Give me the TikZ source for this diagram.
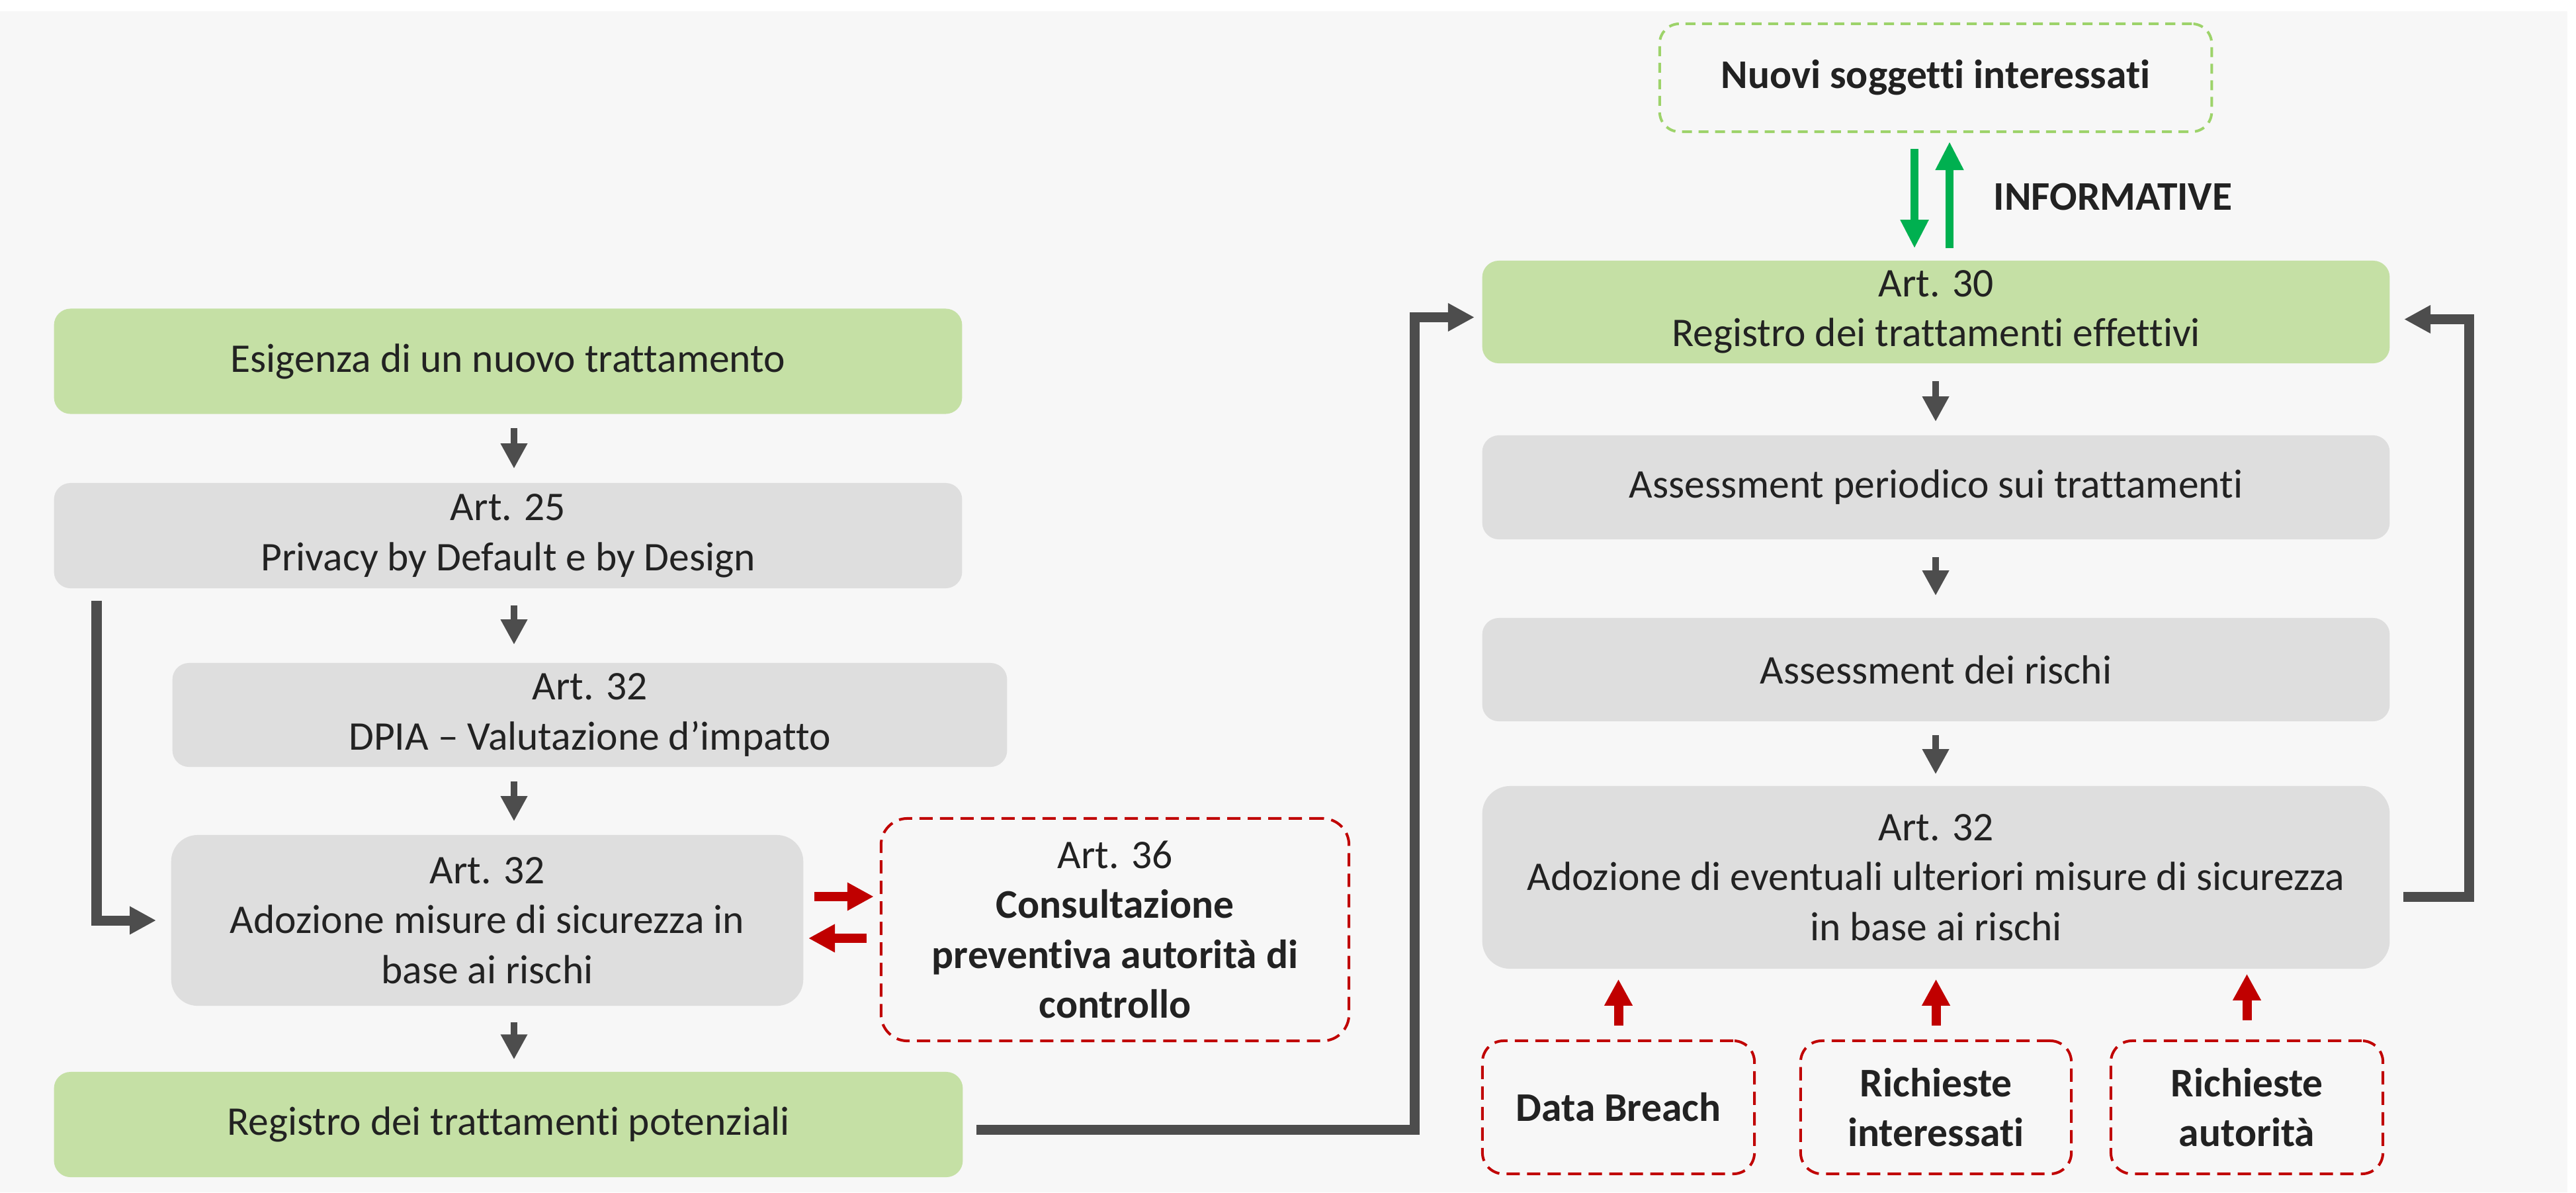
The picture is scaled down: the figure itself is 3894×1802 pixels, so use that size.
\documentclass[tikz,border=0pt]{standalone}
\usepackage{fontspec}
\setmainfont{Carlito}[Ligatures=NoCommon]
\usetikzlibrary{arrows.meta,calc}
\definecolor{bg}{HTML}{F7F7F7}
\definecolor{boxgreen}{HTML}{C5E0A5}
\definecolor{boxgray}{HTML}{DEDEDE}
\definecolor{dgray}{HTML}{4D4D4D}
\definecolor{dred}{HTML}{C00000}
\definecolor{lgreen}{HTML}{9DD36A}
\definecolor{agreen}{HTML}{00B050}
\definecolor{txt}{HTML}{222222}
\begin{document}
\begin{tikzpicture}[x=0.01cm,y=-0.01cm,
  base/.style={rounded corners=0.25cm, align=center, text=txt, inner sep=0pt,
    font=\fontsize{17.5}{21.5}\selectfont},
  greenbox/.style={base, fill=boxgreen},
  graybox/.style={base, fill=boxgray},
  reddash/.style={base, draw=dred, line width=0.04cm, dash pattern=on 0.2cm off 0.11cm, rounded corners=0.32cm},
  greendash/.style={base, draw=lgreen, line width=0.04cm, dash pattern=on 0.15cm off 0.1cm, rounded corners=0.3cm},
  sz/.style 2 args={minimum width=#1, minimum height=#2},
  garrow/.style={draw=dgray, line width=0.1cm, -{Triangle[width=0.38cm,length=0.38cm]}},
  tarrow/.style={draw=dgray, line width=0.15cm, -{Triangle[width=0.4cm,length=0.4cm]}},
  rarrow/.style={draw=dred, line width=0.14cm, -{Triangle[width=0.4cm,length=0.4cm]}},
  grarrow/.style={draw=agreen, line width=0.12cm, -{Triangle[width=0.4cm,length=0.43cm]}},
]
\useasboundingbox (0,0) rectangle (3894,1802);
\fill[bg] (0,17) rectangle (3881,1802);

% left column
\node[greenbox, sz={13.72cm}{1.59cm}] (esig) at (768,546) {Esigenza di un nuovo trattamento};
\node[graybox, sz={13.72cm}{1.59cm}] (art25) at (768,809.5) {Art. 25\\Privacy by Default e by Design};
\node[graybox, sz={12.61cm}{1.57cm}] (dpia) at (891.5,1080.5) {Art. 32\\DPIA – Valutazione d’impatto};
\node[graybox, sz={9.55cm}{2.58cm}, rounded corners=0.4cm] (adoz) at (736.5,1391) {Art. 32\\Adozione misure di sicurezza in\\base ai rischi};
\node[greenbox, sz={13.73cm}{1.59cm}] (regpot) at (768.5,1699.5) {Registro dei trattamenti potenziali};
\node[reddash, sz={7.07cm}{3.36cm}, rounded corners=0.4cm] (art36) at (1685.5,1405) {Art. 36\\\textbf{Consultazione}\\\textbf{preventiva autorità di}\\\textbf{controllo}};

% right column
\node[greendash, sz={8.34cm}{1.63cm}] (nuovi) at (2926,117.5) {\textbf{Nuovi soggetti interessati}};
\node[greenbox, sz={13.71cm}{1.55cm}] (art30) at (2926.5,471.5) {Art. 30\\Registro dei trattamenti effettivi};
\node[graybox, sz={13.71cm}{1.57cm}] (assper) at (2926.5,736.5) {Assessment periodico sui trattamenti};
\node[graybox, sz={13.71cm}{1.56cm}] (assris) at (2926.5,1012) {Assessment dei rischi};
\node[graybox, sz={13.71cm}{2.76cm}, rounded corners=0.42cm] (art32r) at (2926.5,1326) {Art. 32\\Adozione di eventuali ulteriori misure di sicurezza\\in base ai rischi};
\node[reddash, sz={4.11cm}{2.01cm}] (db) at (2446.5,1673.5) {\textbf{Data Breach}};
\node[reddash, sz={4.09cm}{2.01cm}] (ri) at (2926.5,1673.5) {\textbf{Richieste}\\\textbf{interessati}};
\node[reddash, sz={4.11cm}{2.01cm}] (ra) at (3396.5,1673.5) {\textbf{Richieste}\\\textbf{autorità}};
\node[text=txt, font=\fontsize{17.5}{21}\selectfont\bfseries, inner sep=0pt] (info) at (3194,298) {INFORMATIVE};

% left column arrows
\coordinate (colL) at (777,0);
\draw[garrow, shorten <=0.21cm, shorten >=0.21cm] (esig.south -| colL) -- (art25.north -| colL);
\draw[garrow, shorten <=0.25cm, shorten >=0.27cm] (art25.south -| colL) -- (dpia.north -| colL);
\draw[garrow, shorten <=0.21cm, shorten >=0.2cm] (dpia.south -| colL) -- (adoz.north -| colL);
\draw[garrow, shorten <=0.24cm, shorten >=0.18cm] (adoz.south -| colL) -- (regpot.north -| colL);

% bypass
\coordinate (byp) at (146,0);
\draw[tarrow] ($(art25.south -| byp)+(0,18)$) |- ($(adoz.west)+(-22,0)$);

% red side arrows
\draw[rarrow] ($(adoz.east)+(16,-36)$) -- ($(art36.west)+(-9,-50)$);
\draw[rarrow] ($(art36.west)+(-20,13)$) -- ($(adoz.east)+(7,27)$);

% bottom connector to Art. 30
\coordinate (bx) at (2138,0);
\coordinate (A) at ($(regpot.east)+(20,8)$);
\coordinate (B) at ($(art30.west)+(-11,8)$);
\draw[tarrow] (A) -| (bx |- B) -- (B);

% right column arrows
\coordinate (colR) at (2926,0);
\draw[garrow, shorten <=0.26cm, shorten >=0.2cm] (art30.south -| colR) -- (assper.north -| colR);
\draw[garrow, shorten <=0.26cm, shorten >=0.33cm] (assper.south -| colR) -- (assris.north -| colR);
\draw[garrow, shorten <=0.2cm, shorten >=0.17cm] (assris.south -| colR) -- (art32r.north -| colR);

% right loop
\coordinate (rx) at (3732,0);
\coordinate (C) at ($(art32r.east)+(20,29)$);
\coordinate (D) at ($(art30.east)+(21,11)$);
\draw[tarrow] (C) -| (rx |- D) -- (D);

% red up arrows
\draw[rarrow] ($(db.north)+(0,-21)$) -- ($(db.north |- art32r.south)+(0,15)$);
\draw[rarrow] ($(ri.north)+(0,-21)$) -- ($(ri.north |- art32r.south)+(0,15)$);
\draw[rarrow] ($(ra.north)+(0,-29)$) -- ($(ra.north |- art32r.south)+(0,7)$);

% green arrows
\draw[grarrow] ($(nuovi.south)+(-32,24)$) -- ($(nuovi.south |- art30.north)+(-32,-18)$);
\draw[grarrow] ($(nuovi.south |- art30.north)+(21,-18)$) -- ($(nuovi.south)+(21,13)$);
\end{tikzpicture}
\end{document}
